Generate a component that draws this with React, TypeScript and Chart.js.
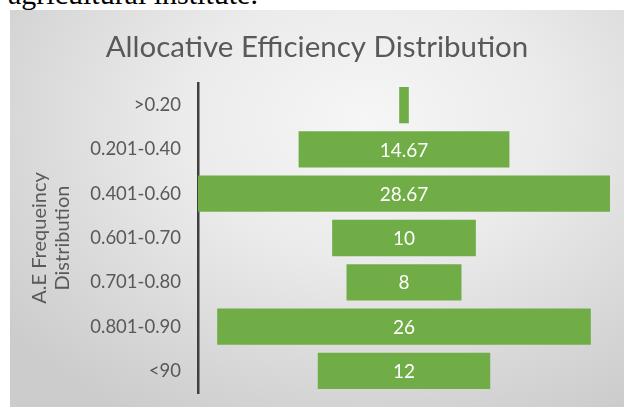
import React, { useEffect, useRef } from "react";
import { Chart, registerables } from "chart.js";

Chart.register(...registerables);

const categories = [">0.20", "0.201-0.40", "0.401-0.60", "0.601-0.70", "0.701-0.80", "0.801-0.90", "<90"];
const values = [0.67, 14.67, 28.67, 10, 8, 26, 12];
const titleText = "Allocative Efficiency Distribution";
const axisTitle = ["A.E Frequeincy", "Distribution"];
const headerText = "agricultural institute.";

const FONT = "Lato, 'Open Sans', sans-serif";

const labelPlugin = {
  id: "centerLabels",
  afterDatasetsDraw(chart: any) {
    const { ctx } = chart;
    const meta = chart.getDatasetMeta(0);
    ctx.save();
    ctx.fillStyle = "#ffffff";
    ctx.font = `19px ${FONT}`;
    ctx.textAlign = "center";
    ctx.textBaseline = "middle";
    meta.data.forEach((bar: any, i: number) => {
      const v = values[i];
      if (v < 2) return;
      ctx.fillText(String(v), bar.x - (bar.x - bar.base) / 2, bar.y + 1);
    });
    ctx.restore();
  },
};

export default function App() {
  const ref = useRef<HTMLCanvasElement>(null);
  useEffect(() => {
    if (!ref.current) return;
    const half = Math.max(...values) / 2;
    const chart = new Chart(ref.current, {
      type: "bar",
      data: {
        labels: categories,
        datasets: [
          {
            data: values.map((v) => [-v / 2, v / 2]) as any,
            backgroundColor: "#70AD47",
            borderWidth: 0,
            categoryPercentage: 1,
            barPercentage: 0.82,
          },
        ],
      },
      plugins: [labelPlugin],
      options: {
        indexAxis: "y",
        responsive: false,
        animation: false,
        layout: { padding: { left: 0, right: 0, bottom: 14, top: 0 } },
        plugins: {
          legend: { display: false },
          tooltip: { enabled: false },
          title: {
            display: true,
            text: titleText,
            color: "#595959",
            font: { family: FONT, size: 29.5, weight: "normal", lineHeight: 1.2 },
            padding: { top: 19.3, bottom: 18.3 },
          },
        },
        scales: {
          x: {
            display: false,
            min: -half,
            max: half,
          },
          y: {
            afterFit: (s: any) => {
              s.width = 188;
              s.paddingTop = 0;
              s.paddingBottom = 0;
            },
            grid: { display: false, drawTicks: false },
            border: { display: true, color: "#404040", width: 2.5 },
            ticks: {
              color: "#595959",
              font: { family: FONT, size: 18.5 },
              padding: 17,
            },
            title: {
              display: true,
              text: axisTitle,
              color: "#595959",
              font: { family: FONT, size: 20, lineHeight: 1.15 },
              padding: { top: 18.5, bottom: 0 },
            },
          },
          yRight: {
            type: "category",
            position: "right",
            display: true,
            afterFit: (s: any) => {
              s.width = 14;
              s.paddingTop = 0;
              s.paddingBottom = 0;
            },
            grid: { display: false, drawTicks: false },
            border: { display: false },
            ticks: { display: false },
          },
        },
      },
    });
    return () => chart.destroy();
  }, []);

  return (
    <>
      <div
        style={{
          position: "absolute",
          left: 8,
          top: -21,
          fontFamily: "'Liberation Serif', 'Times New Roman', serif",
          fontSize: 30,
          lineHeight: "30px",
          color: "#000",
          whiteSpace: "nowrap",
        }}
      >
        {headerText}
      </div>
      <div
        style={{
          position: "absolute",
          left: 10,
          top: 10,
          width: 614,
          height: 397,
          background:
            "radial-gradient(ellipse 75% 85% at 58% 28%, #f6f6f6 0%, #ebebeb 40%, #d6d6d6 80%, #cccccc 100%)",
        }}
      >
        <canvas ref={ref} width={614} height={397} style={{ display: "block" }} />
      </div>
    </>
  );
}
